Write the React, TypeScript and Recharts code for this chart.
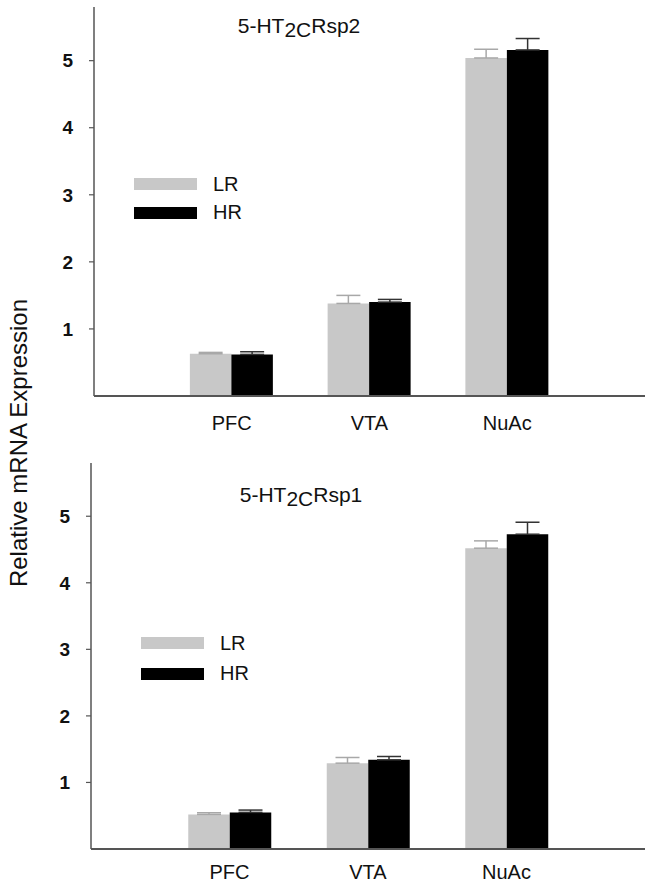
import { BarChart, Bar, XAxis, YAxis, ErrorBar } from "recharts";

const categories = ["PFC", "VTA", "NuAc"];
const seriesNames = ["LR", "HR"];
const yTicks = [1, 2, 3, 4, 5];

// 5-HT2CRsp2 (upper panel)
const lrSp2 = [0.63, 1.38, 5.04];
const lrSp2Err = [0.02, 0.12, 0.13];
const hrSp2 = [0.62, 1.4, 5.16];
const hrSp2Err = [0.04, 0.04, 0.17];

// 5-HT2CRsp1 (lower panel)
const lrSp1 = [0.52, 1.29, 4.52];
const lrSp1Err = [0.025, 0.085, 0.11];
const hrSp1 = [0.55, 1.34, 4.73];
const hrSp1Err = [0.035, 0.05, 0.18];

const FONT = "'Liberation Sans', Arial, sans-serif";
const colors = ["#c8c8c8", "#000000"];

// groups sit at x = 1, 2, 3 on a 0..4 axis (sigmaplot style)
const buildRows = (lr: number[], lrErr: number[], hr: number[], hrErr: number[]) =>
  categories.map((name, i) => ({
    pos: i + 1,
    name,
    LR: lr[i],
    lrErr: [0, lrErr[i]],
    HR: hr[i],
    hrErr: [0, hrErr[i]],
  }));

// legend drawn as plain html so it doesn't eat into the plot area
const SeriesKey = ({ left, top, pitch }: { left: number; top: number; pitch: number }) => (
  <div style={{ position: "absolute", left, top, fontFamily: FONT, fontSize: 20, color: "#111" }}>
    {seriesNames.map((s, i) => (
      <div key={s} style={{ display: "flex", alignItems: "center", height: pitch }}>
        <div style={{ width: 63, height: 12, background: colors[i], marginRight: 16 }} />
        <span>{s}</span>
      </div>
    ))}
  </div>
);

const Title = ({ x, y, tail }: { x: number; y: number; tail: string }) => (
  <div
    style={{
      position: "absolute",
      left: x,
      top: y,
      transform: "translate(-50%, -50%)",
      fontFamily: FONT,
      fontSize: 21,
      color: "#111",
      whiteSpace: "nowrap",
    }}
  >
    5-HT<span style={{ position: "relative", top: 4 }}>2C</span>{tail}
  </div>
);

type PanelProps = {
  top: number;
  height: number;
  marginTop: number;
  axisX: number;
  xAxisHeight: number;
  labelGap: number;
  rows: any[];
};

const Panel = (p: PanelProps) => (
  <div style={{ position: "absolute", left: 0, top: p.top, width: 645, height: p.height }}>
    <BarChart
      width={645}
      height={p.height}
      data={p.rows}
      margin={{ top: p.marginTop, right: 0, bottom: 0, left: 0 }}
      barGap={0}
      barSize={41.5}
    >
      <XAxis
        dataKey="pos"
        type="number"
        domain={[0, 4]}
        allowDataOverflow
        ticks={[1, 2, 3]}
        tickFormatter={(v: number) => categories[v - 1] ?? ""}
        height={p.xAxisHeight}
        tickLine={false}
        tickSize={0}
        tickMargin={p.labelGap}
        axisLine={{ stroke: "#555", strokeWidth: 1.5 }}
        tick={{ fill: "#111", fontSize: 20, fontFamily: FONT }}
      />
      <YAxis
        width={p.axisX}
        domain={[0, 5.8]}
        ticks={yTicks}
        tickSize={5}
        tickMargin={16}
        axisLine={{ stroke: "#555", strokeWidth: 1.5 }}
        tickLine={{ stroke: "#555", strokeWidth: 1.2 }}
        tick={{ fill: "#111", fontSize: 19, fontWeight: "bold", fontFamily: FONT }}
      />
      <Bar dataKey="LR" fill={colors[0]} isAnimationActive={false}>
        <ErrorBar dataKey="lrErr" width={12} stroke="#a8a8a8" strokeWidth={1.5} direction="y" />
      </Bar>
      <Bar dataKey="HR" fill={colors[1]} isAnimationActive={false}>
        <ErrorBar dataKey="hrErr" width={12} stroke="#333" strokeWidth={1.5} direction="y" />
      </Bar>
    </BarChart>
    {/* baseline run out to the page edge, as in the original figure */}
    <div
      style={{
        position: "absolute",
        left: p.axisX,
        top: p.height - p.xAxisHeight - 0.75,
        width: 645 - p.axisX,
        height: 1.5,
        background: "#555",
      }}
    />
  </div>
);

export default function App() {
  const upper = buildRows(lrSp2, lrSp2Err, hrSp2, hrSp2Err);
  const lower = buildRows(lrSp1, lrSp1Err, hrSp1, hrSp1Err);
  return (
    <div style={{ position: "absolute", left: 0, top: 0, width: 645, height: 889, background: "#fff", overflow: "hidden" }}>
      <Panel top={0} height={440} marginTop={7} axisX={94} xAxisHeight={44} labelGap={20} rows={upper} />
      <Panel top={440} height={449} marginTop={23} axisX={91} xAxisHeight={40} labelGap={16} rows={lower} />
      <SeriesKey left={134} top={170} pitch={28.5} />
      <SeriesKey left={141} top={628} pitch={30.5} />
      <Title x={299} y={26} tail="Rsp2" />
      <Title x={301} y={495} tail="Rsp1" />
      <div
        style={{
          position: "absolute",
          left: 19,
          top: 443,
          transform: "translate(-50%, -50%) rotate(-90deg)",
          fontFamily: FONT,
          fontSize: 24,
          color: "#111",
          whiteSpace: "nowrap",
        }}
      >
        Relative mRNA Expression
      </div>
    </div>
  );
}
